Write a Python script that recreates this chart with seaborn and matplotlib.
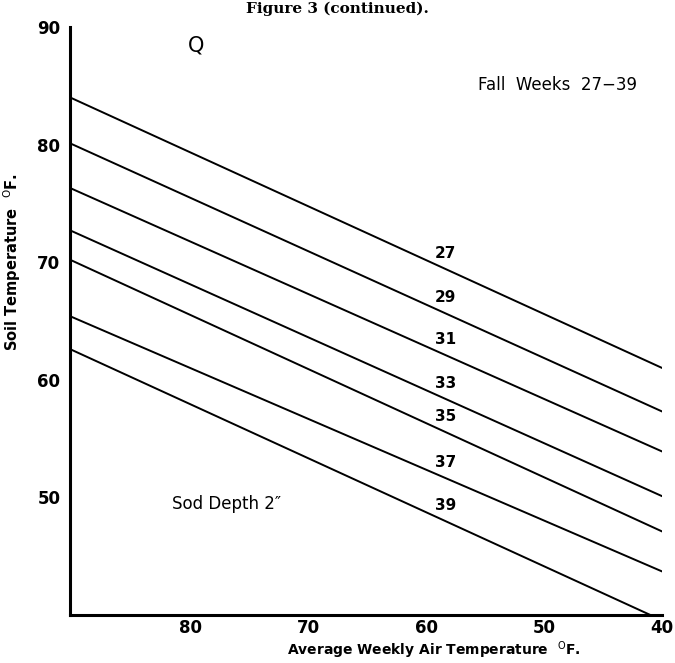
import numpy as np
import pandas as pd
import matplotlib
matplotlib.use("Agg")
import matplotlib.pyplot as plt
import seaborn as sns

# Fall weeks shown as separate lines
weeks = [27, 29, 31, 33, 35, 37, 39]

# Air temperature at the two ends of each line (x axis runs high -> low)
air_left = [90.2, 90.2, 90.2, 90.2, 90.2, 90.2, 90.2]
air_right = [40.0, 40.0, 40.0, 40.0, 40.0, 40.0, 41.0]

# Soil temperature read at those ends
soil_left = [84.0, 80.1, 76.3, 72.7, 70.2, 65.4, 62.6]
soil_right = [61.0, 57.3, 53.9, 50.1, 47.1, 43.7, 40.0]

x_ticks = [80, 70, 60, 50, 40]
y_ticks = [50, 60, 70, 80, 90]

label_air = 58.4


def main():
    rows = []
    for w, xl, xr, yl, yr in zip(weeks, air_left, air_right, soil_left, soil_right):
        rows.append({"week": w, "air": xl, "soil": yl})
        rows.append({"week": w, "air": xr, "soil": yr})
    df = pd.DataFrame(rows)

    sns.set_theme(style="white")
    plt.rcParams['font.family'] = ['DejaVu Sans']
    plt.rcParams['text.color'] = 'black'
    plt.rcParams['axes.labelcolor'] = 'black'

    fig = plt.figure(figsize=(6.75, 6.63), dpi=100)
    ax = fig.add_axes([0.104, 0.0724, 0.877, 0.887])

    sns.lineplot(data=df, x="air", y="soil", hue="week",
                 palette=["black"] * len(weeks), legend=False,
                 linewidth=1.4, ax=ax)

    ax.set_xlim(90.2, 40)
    ax.set_ylim(40, 90)
    ax.set_xticks(x_ticks)
    ax.set_yticks(y_ticks)
    ax.tick_params(axis="both", direction="in", length=6, width=1.5,
                   labelsize=12, pad=7, colors="black")
    ax.tick_params(axis="x", pad=3)
    for lab in ax.get_xticklabels() + ax.get_yticklabels():
        lab.set_fontweight("bold")

    for side in ["top", "right"]:
        ax.spines[side].set_visible(False)
    for side in ["left", "bottom"]:
        ax.spines[side].set_linewidth(2.2)
        ax.spines[side].set_color("black")

    # week labels just above each line
    for w, xl, xr, yl, yr in zip(weeks, air_left, air_right, soil_left, soil_right):
        y = np.interp(label_air, [xr, xl], [yr, yl])
        ax.text(label_air, y + 1.3, str(w), ha="center", va="center",
                fontsize=11, fontweight="bold")

    ax.text(79.5, 88.4, "Q", ha="center", va="center", fontsize=15)
    ax.text(48.9, 85.1, "Fall  Weeks  27\u221239", ha="center", va="center",
            fontsize=12)
    ax.text(76.9, 49.4, "Sod Depth 2\u2033", ha="center", va="center",
            fontsize=12)

    ax.set_xlabel("Average Weekly Air Temperature  $^{\\mathrm{O}}$F.",
                  fontsize=10, fontweight="bold")
    ax.xaxis.set_label_coords(0.615, -0.042)
    ax.set_ylabel("Soil Temperature  $^{\\mathrm{O}}$F.",
                  fontsize=10.5, fontweight="bold")
    ax.yaxis.set_label_coords(-0.08, 0.60)

    fig.text(0.5, 0.998, "Figure 3 (continued).", ha="center", va="top",
             fontsize=11, fontweight="bold", family="DejaVu Serif")

    fig.savefig("out.png", dpi=100, facecolor="white")
    plt.close(fig)


if __name__ == "__main__":
    main()
